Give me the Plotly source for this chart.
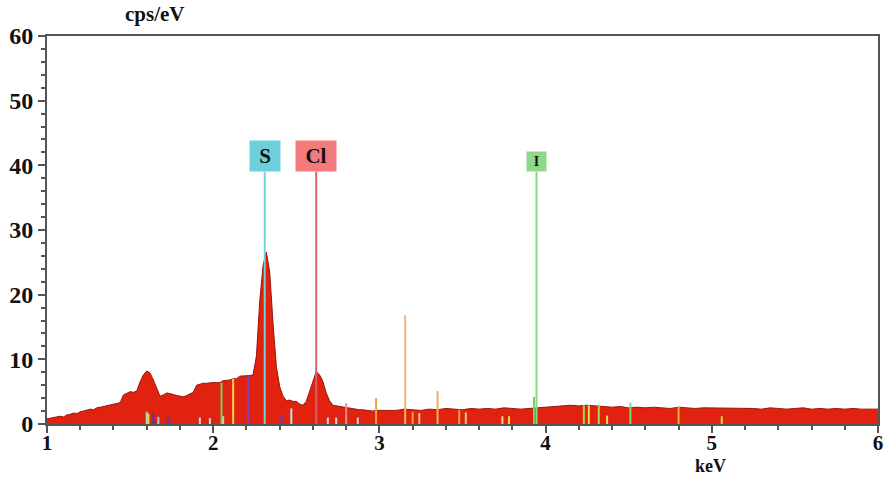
import numpy as np
import plotly.graph_objects as go

# ---- data ----
energy_lo = np.round(np.arange(1.00, 3.001, 0.02), 3)
counts_lo = [0.8, 0.9, 1.0, 1.0, 1.2, 1.1, 1.4, 1.5, 1.7, 1.6,
             1.9, 2.0, 2.1, 2.3, 2.2, 2.5, 2.6, 2.7, 2.8, 2.9,
             3.0, 3.1, 3.3, 4.5, 4.8, 5.0, 4.9, 5.1, 6.5, 7.6,
             8.2, 7.9, 6.8, 5.4, 4.3, 4.5, 4.8, 4.7, 4.5, 4.4,
             4.3, 4.2, 4.4, 4.6, 4.9, 6.0, 6.2, 6.3, 6.3, 6.4,
             6.4, 6.4, 6.4, 6.7, 6.7, 6.8, 7.0, 7.0, 7.4, 7.4,
             7.5, 7.5, 7.6, 10.5, 19.0, 24.5, 26.6, 23.5, 15.6, 8.9,
             5.8, 4.3, 3.6, 3.7, 3.5, 3.5, 3.1, 2.9, 3.5, 5.0,
             6.8, 8.1, 7.6, 6.6, 4.8, 3.6, 2.9, 2.8, 2.7, 2.6,
             2.6, 2.5, 2.4, 2.3, 2.2, 2.2, 2.1, 2.1, 2.0, 2.1,
             2.1]
energy_hi = np.round(np.arange(3.05, 6.001, 0.05), 3)
counts_hi = [2.2, 2.1, 2.3, 2.2, 2.1, 2.3, 2.2, 2.4, 2.3, 2.2,
             2.4, 2.3, 2.4, 2.3, 2.5, 2.4, 2.3, 2.4, 2.5, 2.6,
             2.7, 2.8, 2.9, 2.8, 2.9, 2.8, 2.7, 2.6, 2.7, 2.5,
             2.6, 2.5, 2.6, 2.5, 2.4, 2.6, 2.5, 2.4, 2.5, 2.5,
             2.4, 2.5, 2.4, 2.5, 2.4, 2.3, 2.5, 2.4, 2.3, 2.4,
             2.5, 2.3, 2.4, 2.3, 2.4, 2.3, 2.4, 2.3, 2.3, 2.3]

element_names = ["S", "Cl", "I"]
element_energy = [2.31, 2.62, 3.945]
element_height = [39, 39, 39]
element_line_colors = ["#6fd3dc", "#d9606c", "#86d97e"]
element_box_colors = ["#6cd0da", "#f47a7c", "#8fd888"]

minor_energy = [1.60, 1.61, 1.64, 1.67, 1.73, 1.92, 1.98, 2.05, 2.06, 2.12,
                2.21, 2.41, 2.47, 2.69, 2.74, 2.80, 2.87, 2.98, 3.155, 3.20,
                3.24, 3.35, 3.48, 3.52, 3.74, 3.78, 3.93, 4.23, 4.26, 4.32,
                4.37, 4.51, 4.80, 5.06]
minor_height = [1.9, 1.6, 1.7, 1.1, 1.0, 1.0, 0.9, 6.4, 1.2, 7.0,
                7.5, 1.4, 2.4, 1.0, 1.0, 3.2, 1.0, 4.0, 16.8, 1.9,
                1.7, 5.1, 2.2, 1.8, 1.2, 1.2, 4.2, 2.9, 2.9, 2.9,
                1.3, 3.3, 2.7, 1.2]
minor_colors = ["#a8e6a0", "#e8d84a", "#3a3ad0", "#a0c8f0", "#4040c8", "#d8d8e8", "#d8d8e8", "#7ccf5a", "#a8e6a0", "#e8d84a",
                "#8040c0", "#6040c0", "#a8e8f0", "#d8d8e8", "#d8d8e8", "#e88898", "#d8d8e8", "#f0a040", "#f2b27a", "#f0a040",
                "#f2c080", "#f0b060", "#f0a040", "#f2c080", "#f2d0a0", "#e8d84a", "#70d070", "#a8d84a", "#e8d84a", "#a8d84a",
                "#e8d84a", "#80d870", "#d8b840", "#d8d84a"]

x_ticks = [1, 2, 3, 4, 5, 6]
y_ticks = [0, 10, 20, 30, 40, 50, 60]

serif = "Liberation Serif, Times New Roman, serif"

fig = go.Figure()

energy = list(energy_lo) + list(energy_hi)
counts = counts_lo + counts_hi
fig.add_trace(go.Scatter(x=energy, y=counts, mode="lines", fill="tozeroy",
                         fillcolor="#e0220e", line=dict(color="#9a1608", width=1),
                         hoverinfo="skip", showlegend=False))

for e, h, c in zip(minor_energy, minor_height, minor_colors):
    fig.add_trace(go.Scatter(x=[e, e], y=[0, h], mode="lines",
                             line=dict(color=c, width=2), showlegend=False, hoverinfo="skip"))

for name, e, h, lc in zip(element_names, element_energy, element_height, element_line_colors):
    fig.add_trace(go.Scatter(x=[e, e], y=[0, h], mode="lines",
                             line=dict(color=lc, width=2), showlegend=False, hoverinfo="skip"))

box_sizes = {"S": (28, 28, 21), "Cl": (38, 28, 21), "I": (17, 17, 14)}
for name, e, h, bc in zip(element_names, element_energy, element_height, element_box_colors):
    w, hh, fs = box_sizes[name]
    fig.add_annotation(x=e, y=h, xref="x", yref="y", text="<b>%s</b>" % name,
                       showarrow=False, yanchor="bottom", xanchor="center",
                       bgcolor=bc, width=w, height=hh, borderpad=1,
                       font=dict(family=serif, size=fs, color="#111"))

fig.add_annotation(x=0.13, y=1.0928, xref="paper", yref="paper", text="<b>cps/eV</b>",
                   showarrow=False, xanchor="center", yanchor="top",
                   font=dict(family=serif, size=21, color="#111"))
fig.add_annotation(x=0.798, y=-0.1366, xref="paper", yref="paper", text="<b>keV</b>",
                   showarrow=False, xanchor="center", yanchor="bottom", borderpad=0,
                   font=dict(family=serif, size=18, color="#111"))

axis_common = dict(ticks="outside", ticklen=7, tickwidth=1.5, tickcolor="#555",
                   showline=True, linecolor="#555", linewidth=2, mirror=True,
                   showgrid=False, zeroline=False, automargin=False)
fig.update_xaxes(range=[1, 6], tickvals=x_ticks, ticktext=[str(t) for t in x_ticks],
                 minor=dict(dtick=0.2, ticks="outside", ticklen=4, tickcolor="#555"),
                 ticklabelstandoff=-8,
                 tickfont=dict(family=serif, size=21, color="#111", weight="bold"),
                 **axis_common)
fig.update_yaxes(range=[0, 60], tickvals=y_ticks, ticktext=[str(t) for t in y_ticks],
                 minor=dict(dtick=2, ticks="outside", ticklen=4, tickcolor="#555"),
                 tickfont=dict(family=serif, size=24, color="#111", weight="bold"),
                 **axis_common)

fig.update_layout(width=888, height=477, margin=dict(l=47, r=10, t=36, b=53),
                  paper_bgcolor="white", plot_bgcolor="white", showlegend=False)

fig.write_html("out.html")
